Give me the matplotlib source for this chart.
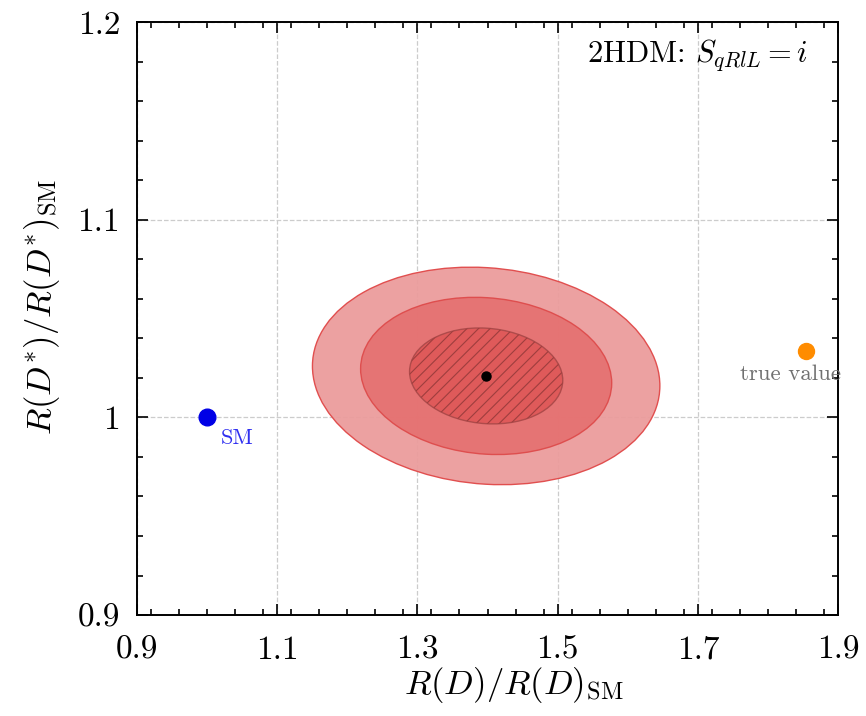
import matplotlib.pyplot as plt
import numpy as np
from matplotlib.patches import Ellipse
from matplotlib.ticker import MultipleLocator

plt.rcParams['font.family'] = 'serif'
plt.rcParams['font.serif'] = ['cmr10', 'DejaVu Serif']
plt.rcParams['mathtext.fontset'] = 'cm'
plt.rcParams['axes.unicode_minus'] = False

# best-fit point and Gaussian uncertainties
best_fit = (1.398, 1.021)
sigma_x, sigma_y, rho = 0.072, 0.016, -0.09
# 2D chi^2 levels for 68%, 95%, 99.7%
chi2_levels = [11.83, 6.18, 2.30]
fill_colors = ['#eb9c9c', '#e56f6f', '#df5858']
fill_alpha = [0.95, 0.9, 0.9]
edge_colors = ['#e04848', '#dd4848', '#a94848']

sm_point = (1.0, 1.0)
true_point = (1.854, 1.0335)

x_ticks = [0.9, 1.1, 1.3, 1.5, 1.7, 1.9]
y_ticks = [0.9, 1.0, 1.1, 1.2]
y_tick_labels = ['0.9', '1', '1.1', '1.2']

fig = plt.figure(figsize=(8.66, 7.16), dpi=100)
ax = fig.add_axes([0.158, 0.141, 0.810, 0.828])

# covariance ellipse geometry
cov = np.array([[sigma_x**2, rho * sigma_x * sigma_y],
                [rho * sigma_x * sigma_y, sigma_y**2]])
vals, vecs = np.linalg.eigh(cov)
angle = np.degrees(np.arctan2(vecs[1, 1], vecs[0, 1]))

inner = None
for lvl, fc, ec, a in zip(chi2_levels, fill_colors, edge_colors, fill_alpha):
    w = 2 * np.sqrt(lvl * vals[1])
    h = 2 * np.sqrt(lvl * vals[0])
    e = Ellipse(best_fit, w, h, angle=angle, facecolor=fc, edgecolor=ec,
                lw=1.0, alpha=a, zorder=2)
    ax.add_patch(e)
    inner = e

# diagonal hatching inside the 1 sigma region
slope = 701 / 1977
for c in np.arange(-0.4, 0.4, 0.0165):
    xs = np.array([best_fit[0] - 0.2, best_fit[0] + 0.2])
    ys = best_fit[1] + slope * (xs - best_fit[0]) + c * slope
    ln, = ax.plot(xs, ys, color='#9e3e3e', lw=0.8, zorder=3)
    ln.set_clip_path(inner)

ax.plot(*best_fit, 'o', color='black', ms=6.5, zorder=5)
ax.plot(*sm_point, 'o', color='#0000e6', ms=12, zorder=5)
ax.plot(*true_point, 'o', color='#ff8c00', ms=11.5, zorder=5)

ax.text(1.02, 0.9895, 'SM', color='#3030f0', fontsize=16, ha='left', va='center')
ax.text(1.8315, 1.0219, 'true value', color='#707070', fontsize=16.5,
        ha='center', va='center', clip_on=False)
ax.text(1.542, 1.1798, r'2HDM: $S_{qRlL} = i$', fontsize=22,
        ha='left', va='baseline')

ax.set_xlim(0.9, 1.9)
ax.set_ylim(0.9, 1.2)
ax.set_xticks(x_ticks)
ax.set_xticklabels([f'{t:g}' for t in x_ticks])
ax.set_yticks(y_ticks)
ax.set_yticklabels(y_tick_labels)
ax.xaxis.set_minor_locator(MultipleLocator(0.04))
ax.yaxis.set_minor_locator(MultipleLocator(0.02))
ax.tick_params(which='both', direction='in', top=True, right=True,
               labelsize=24, width=1.2)
ax.tick_params(which='major', length=8)
ax.tick_params(which='minor', length=4)
ax.tick_params(axis='x', which='major', pad=15)
ax.tick_params(axis='y', which='major', pad=12)
for s in ax.spines.values():
    s.set_linewidth(1.4)

ax.grid(True, which='major', linestyle='--', color='#cccccc', lw=0.9, zorder=0)
ax.set_axisbelow(True)

ax.set_xlabel(r'$R(D)/R(D)_{\rm SM}$', fontsize=25, labelpad=0)
ax.xaxis.label.set_x(0.537)
ax.set_ylabel(r'$R(D^{*})/R(D^{*})_{\rm SM}$', fontsize=25, labelpad=11)
ax.yaxis.label.set_y(0.52)

fig.savefig('out.png', dpi=100)
